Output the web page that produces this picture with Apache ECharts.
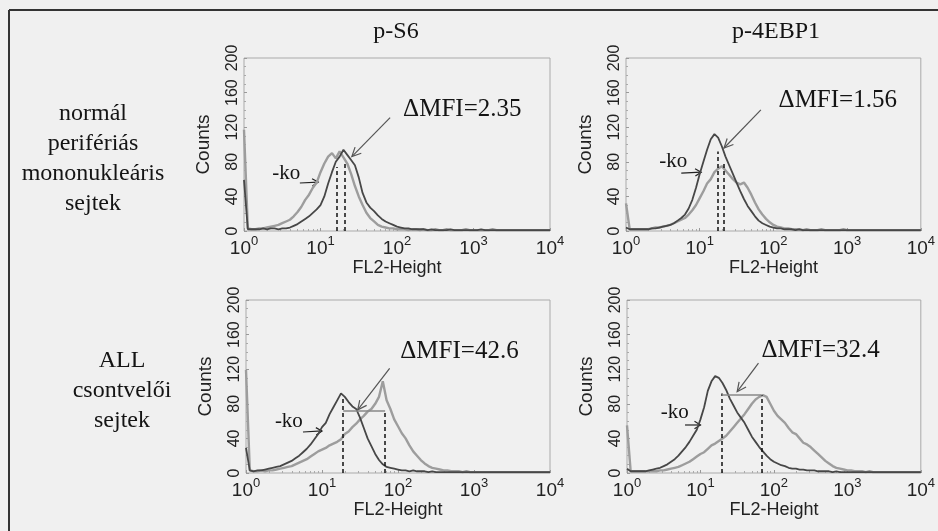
<!DOCTYPE html>
<html>
<head>
<meta charset="utf-8">
<script src="https://cdn.jsdelivr.net/npm/echarts@6/dist/echarts.min.js"></script>
<style>
html,body{margin:0;padding:0;background:#f0f0f0;}
#chart{width:938px;height:531px;}
</style>
</head>
<body>
<div id="chart"></div>
<script>
// ---- data: histogram counts on a log-channel grid (decades 0.00 .. 4.00, step 0.05) ----
const DECADE_STEP = 0.05;
const COLUMN_TITLES = ['p-S6', 'p-4EBP1'];
const ROW_LABELS = ['normál\nperifériás\nmononukleáris\nsejtek', 'ALL\ncsontvelői\nsejtek'];
const X_TICK_EXPONENTS = [0, 1, 2, 3, 4];
const Y_TICKS = [0, 40, 80, 120, 160, 200];

const P1_LIGHT = [117,
  3,2,2,3,3,4,5,6,7,9,
  11,13,17,22,28,36,42,50,56,68,
  78,86,90,84,92,85,78,66,52,40,
  30,21,15,11,7,5,4,3,3,2,
  2,2,1,2,2,1,2,1,1,2,
  1,1,2,1,1,1,1,2,1,1,
  1,1,1,1,2,1,1,1,1,1,
  1,1,1,1,1,1,1,1,1,1];
const P1_DARK = [59,
  2,2,2,2,3,2,3,3,2,3,
  3,4,6,8,11,14,17,21,25,30,
  40,55,68,80,86,94,88,82,76,62,
  44,33,27,23,18,14,11,9,7,5,
  4,3,3,2,2,2,2,1,2,1,
  1,1,1,2,1,1,1,1,1,1,
  1,2,1,1,1,1,1,1,1,1,
  1,1,1,1,1,1,1,1,1,1];
const P2_LIGHT = [32,
  2,2,2,2,2,2,3,4,4,5,
  6,7,9,11,13,15,19,24,30,38,
  46,55,60,68,72,75,70,65,60,56,
  54,56,50,42,33,25,19,14,10,7,
  5,4,3,3,2,2,2,1,2,1,
  1,1,2,1,1,1,1,1,2,1,
  1,1,1,1,1,1,1,1,1,1,
  1,1,1,1,1,1,1,1,1,1];
const P2_DARK = [4,
  2,2,2,2,2,2,3,3,4,5,
  6,7,9,12,15,19,26,36,50,66,
  80,94,106,112,108,98,86,76,66,56,
  46,37,29,23,17,12,9,7,5,4,
  3,3,2,2,2,1,2,1,1,1,
  1,1,1,1,1,1,1,1,1,1,
  1,1,1,1,1,1,1,1,1,1,
  1,1,1,1,1,1,1,1,1,1];
const P3_LIGHT = [119,
  3,2,2,3,2,3,3,4,5,6,
  7,8,10,12,14,16,19,22,25,27,
  29,32,34,36,39,45,48,53,57,62,
  66,71,74,80,88,106,84,74,62,54,
  46,40,32,25,20,15,11,8,6,5,
  4,3,3,2,2,2,1,2,1,1,
  1,1,1,1,1,1,1,1,1,1,
  1,1,1,1,1,1,1,1,1,1];
const P3_DARK = [29,
  3,2,3,3,4,5,6,7,8,10,
  12,14,17,20,24,28,33,39,45,53,
  58,68,76,84,92,88,82,77,74,64,
  52,40,31,22,15,10,7,6,5,4,
  3,3,2,3,2,2,2,1,2,1,
  1,1,1,1,1,1,1,1,1,1,
  1,1,1,1,1,1,1,1,1,1,
  1,1,1,1,1,1,1,1,1,1];
const P4_LIGHT = [55,
  2,2,2,2,2,2,2,2,3,3,
  4,5,6,7,9,11,13,16,19,22,
  24,28,32,34,37,40,43,48,53,58,
  63,68,74,80,85,88,90,88,80,72,
  66,62,58,52,47,45,40,35,33,30,
  26,22,18,14,11,8,6,5,4,3,
  3,2,2,2,1,2,1,1,1,1,
  1,1,1,1,1,1,1,1,1,1];
const P4_DARK = [5,
  2,2,2,2,2,3,4,5,6,8,
  10,13,16,20,25,30,36,43,50,62,
  76,95,106,112,110,104,96,86,78,70,
  64,58,50,42,36,30,25,20,16,13,
  11,9,8,6,5,5,4,4,3,3,
  3,2,2,2,2,1,2,1,1,1,
  1,1,1,1,1,1,1,1,1,1,
  1,1,1,1,1,1,1,1,1,1];

const LIGHT_SERIES = [P1_LIGHT, P2_LIGHT, P3_LIGHT, P4_LIGHT];
const DARK_SERIES = [P1_DARK, P2_DARK, P3_DARK, P4_DARK];

// MFI markers (FL2 value) and the heights of their dashed lines (counts)
const MFI_LOW = [16.2, 17.4, 19.0, 19.5];
const MFI_HIGH = [20.9, 21.4, 67.6, 67.6];
const MFI_LOW_TOP = [74, 92, 88, 92];
const MFI_HIGH_TOP = [80, 80, 72, 90];
const BRIDGE_LEVEL = [null, null, 72, 90];
const DELTA_LABELS = ['ΔMFI=2.35', 'ΔMFI=1.56', 'ΔMFI=42.6', 'ΔMFI=32.4'];
const KO_LABEL = '-ko';

// annotation anchors in data space: [decade, count]
const DELTA_TEXT_AT = [[2.08, 140], [2.07, 151], [2.03, 140], [1.83, 142]];
const DELTA_ARROW_FROM = [[1.91, 131], [1.83, 140], [1.89, 121], [1.79, 127]];
const DELTA_ARROW_TO = [[1.41, 86], [1.33, 96], [1.47, 73], [1.50, 94]];
const KO_TEXT_AT = [[0.37, 67], [0.45, 80], [0.38, 59], [0.46, 70.5]];
const KO_ARROW_FROM = [[0.73, 55.5], [0.75, 67], [0.75, 47.4], [0.79, 55.5]];
const KO_ARROW_TO = [[0.97, 56.6], [1.02, 68], [1.0, 48.6], [1.0, 55.5]];

// ---- layout ----
const GRIDS = [
  {left: 244, top: 58, width: 306, height: 173},
  {left: 626, top: 58, width: 303, height: 173},
  {left: 246, top: 300, width: 304, height: 173},
  {left: 627, top: 300, width: 302, height: 173}
];
const SANS = '"Liberation Sans", Arial, sans-serif';
const SERIF = '"Liberation Serif", "Times New Roman", serif';
const DARK_COLOR = '#474747';
const LIGHT_COLOR = '#9d9d9d';

const DECADES = P1_LIGHT.map((_, k) => +(k * DECADE_STEP).toFixed(2));
function toXY(arr) { return DECADES.map((d, k) => [Math.pow(10, d), arr[k]]); }

const chart = echarts.init(document.getElementById('chart'), null, {renderer: 'canvas'});

const grid = GRIDS.map(g => Object.assign({show: true, borderColor: '#aaaaaa', borderWidth: 1, backgroundColor: 'transparent', containLabel: false}, g));

const xAxis = GRIDS.map((g, i) => ({
  type: 'log', logBase: 10, gridIndex: i, min: 1, max: 10000,
  name: 'FL2-Height', nameLocation: 'middle', nameGap: 28,
  nameTextStyle: {fontFamily: SANS, fontSize: 18, color: '#222'},
  axisLine: {show: false},
  axisTick: {show: true, inside: true, length: 3, lineStyle: {color: '#999'}},
  minorTick: {show: true, splitNumber: 9, length: 2, lineStyle: {color: '#aaa'}},
  splitLine: {show: false},
  axisLabel: {
    margin: 4, color: '#222',
    formatter: v => {
      const e = Math.round(Math.log10(v));
      return X_TICK_EXPONENTS.indexOf(e) >= 0 ? '{b|10}{s|' + e + '}' : '';
    },
    rich: {
      b: {fontFamily: SANS, fontSize: 19, lineHeight: 28, color: '#222'},
      s: {fontFamily: SANS, fontSize: 13, lineHeight: 12, verticalAlign: 'top', color: '#222'}
    }
  }
}));

const yAxis = GRIDS.map((g, i) => ({
  type: 'value', gridIndex: i, min: Y_TICKS[0], max: Y_TICKS[Y_TICKS.length - 1], interval: 40,
  name: 'Counts', nameLocation: 'middle', nameGap: 31, nameRotate: 90,
  nameTextStyle: {fontFamily: SANS, fontSize: 19, color: '#222'},
  axisLine: {show: false},
  axisTick: {show: true, inside: true, length: 3, lineStyle: {color: '#999'}},
  minorTick: {show: true, splitNumber: 4, length: 2, lineStyle: {color: '#aaa'}},
  splitLine: {show: false},
  axisLabel: {rotate: 90, margin: 3, fontFamily: SANS, fontSize: 16, color: '#222', showMinLabel: true, showMaxLabel: true}
}));

const series = [];
GRIDS.forEach((g, i) => {
  series.push({
    type: 'line', xAxisIndex: i, yAxisIndex: i, data: toXY(LIGHT_SERIES[i]),
    showSymbol: false, symbol: 'none', silent: true, animation: false,
    lineStyle: {color: LIGHT_COLOR, width: 2.4}
  });
  const ml = [
    [{coord: [MFI_LOW[i], 0]}, {coord: [MFI_LOW[i], MFI_LOW_TOP[i]]}],
    [{coord: [MFI_HIGH[i], 0]}, {coord: [MFI_HIGH[i], MFI_HIGH_TOP[i]]}]
  ];
  if (BRIDGE_LEVEL[i] != null) {
    ml.push([{coord: [MFI_LOW[i], BRIDGE_LEVEL[i]], lineStyle: {type: 'solid', color: '#888', width: 1.5}},
             {coord: [MFI_HIGH[i], BRIDGE_LEVEL[i]]}]);
  }
  series.push({
    type: 'line', xAxisIndex: i, yAxisIndex: i, data: toXY(DARK_SERIES[i]),
    showSymbol: false, symbol: 'none', silent: true, animation: false,
    lineStyle: {color: DARK_COLOR, width: 1.8},
    markLine: {
      silent: true, animation: false, symbol: ['none', 'none'],
      label: {show: false},
      lineStyle: {color: '#111', type: [4, 3], width: 1.5},
      emphasis: {disabled: true},
      data: ml
    }
  });
});

chart.setOption({
  backgroundColor: '#f0f0f0',
  animation: false,
  grid: grid, xAxis: xAxis, yAxis: yAxis, series: series
});

// ---- annotations (placed from data coordinates) ----
function px(i, pt) {
  return chart.convertToPixel({seriesIndex: 2 * i + 1}, [Math.pow(10, pt[0]), pt[1]]);
}
function arrow(a, b, L, ang, color, w) {
  const t = Math.atan2(b[1] - a[1], b[0] - a[0]);
  const h1 = [b[0] - L * Math.cos(t - ang), b[1] - L * Math.sin(t - ang)];
  const h2 = [b[0] - L * Math.cos(t + ang), b[1] - L * Math.sin(t + ang)];
  return [
    {type: 'polyline', silent: true, shape: {points: [a, b]}, style: {stroke: color, lineWidth: w, fill: null}},
    {type: 'polyline', silent: true, shape: {points: [h1, b, h2]}, style: {stroke: color, lineWidth: w, fill: null}}
  ];
}
function text(str, x, y, size, family, align) {
  return {type: 'text', silent: true, x: x, y: y,
    style: {text: str, fontSize: size, fontFamily: family, fill: '#141414',
      align: align, verticalAlign: 'middle', textAlign: align, textVerticalAlign: 'middle', lineHeight: 30}};
}

const g = [];
// frame lines of the figure
g.push({type: 'line', silent: true, shape: {x1: 9, y1: 10, x2: 938, y2: 10}, style: {stroke: '#333', lineWidth: 2}});
g.push({type: 'line', silent: true, shape: {x1: 9, y1: 10, x2: 9, y2: 531}, style: {stroke: '#333', lineWidth: 2}});
// column titles
g.push(text(COLUMN_TITLES[0], 396, 32, 24, SERIF, 'center'));
g.push(text(COLUMN_TITLES[1], 776, 32, 24, SERIF, 'center'));
// row labels
g.push(text(ROW_LABELS[0], 93, 159, 24, SERIF, 'center'));
g.push(text(ROW_LABELS[1], 122, 391, 24, SERIF, 'center'));

GRIDS.forEach((gr, i) => {
  const dt = px(i, DELTA_TEXT_AT[i]);
  g.push(text(DELTA_LABELS[i], dt[0], dt[1], 25, SERIF, 'left'));
  arrow(px(i, DELTA_ARROW_FROM[i]), px(i, DELTA_ARROW_TO[i]), 10, 0.45, '#555', 1.2).forEach(e => g.push(e));
  const kt = px(i, KO_TEXT_AT[i]);
  g.push(text(KO_LABEL, kt[0], kt[1], 21, SERIF, 'left'));
  arrow(px(i, KO_ARROW_FROM[i]), px(i, KO_ARROW_TO[i]), 7, 0.55, '#222', 1.2).forEach(e => g.push(e));
});

chart.setOption({graphic: {elements: g}});
</script>
</body>
</html>
